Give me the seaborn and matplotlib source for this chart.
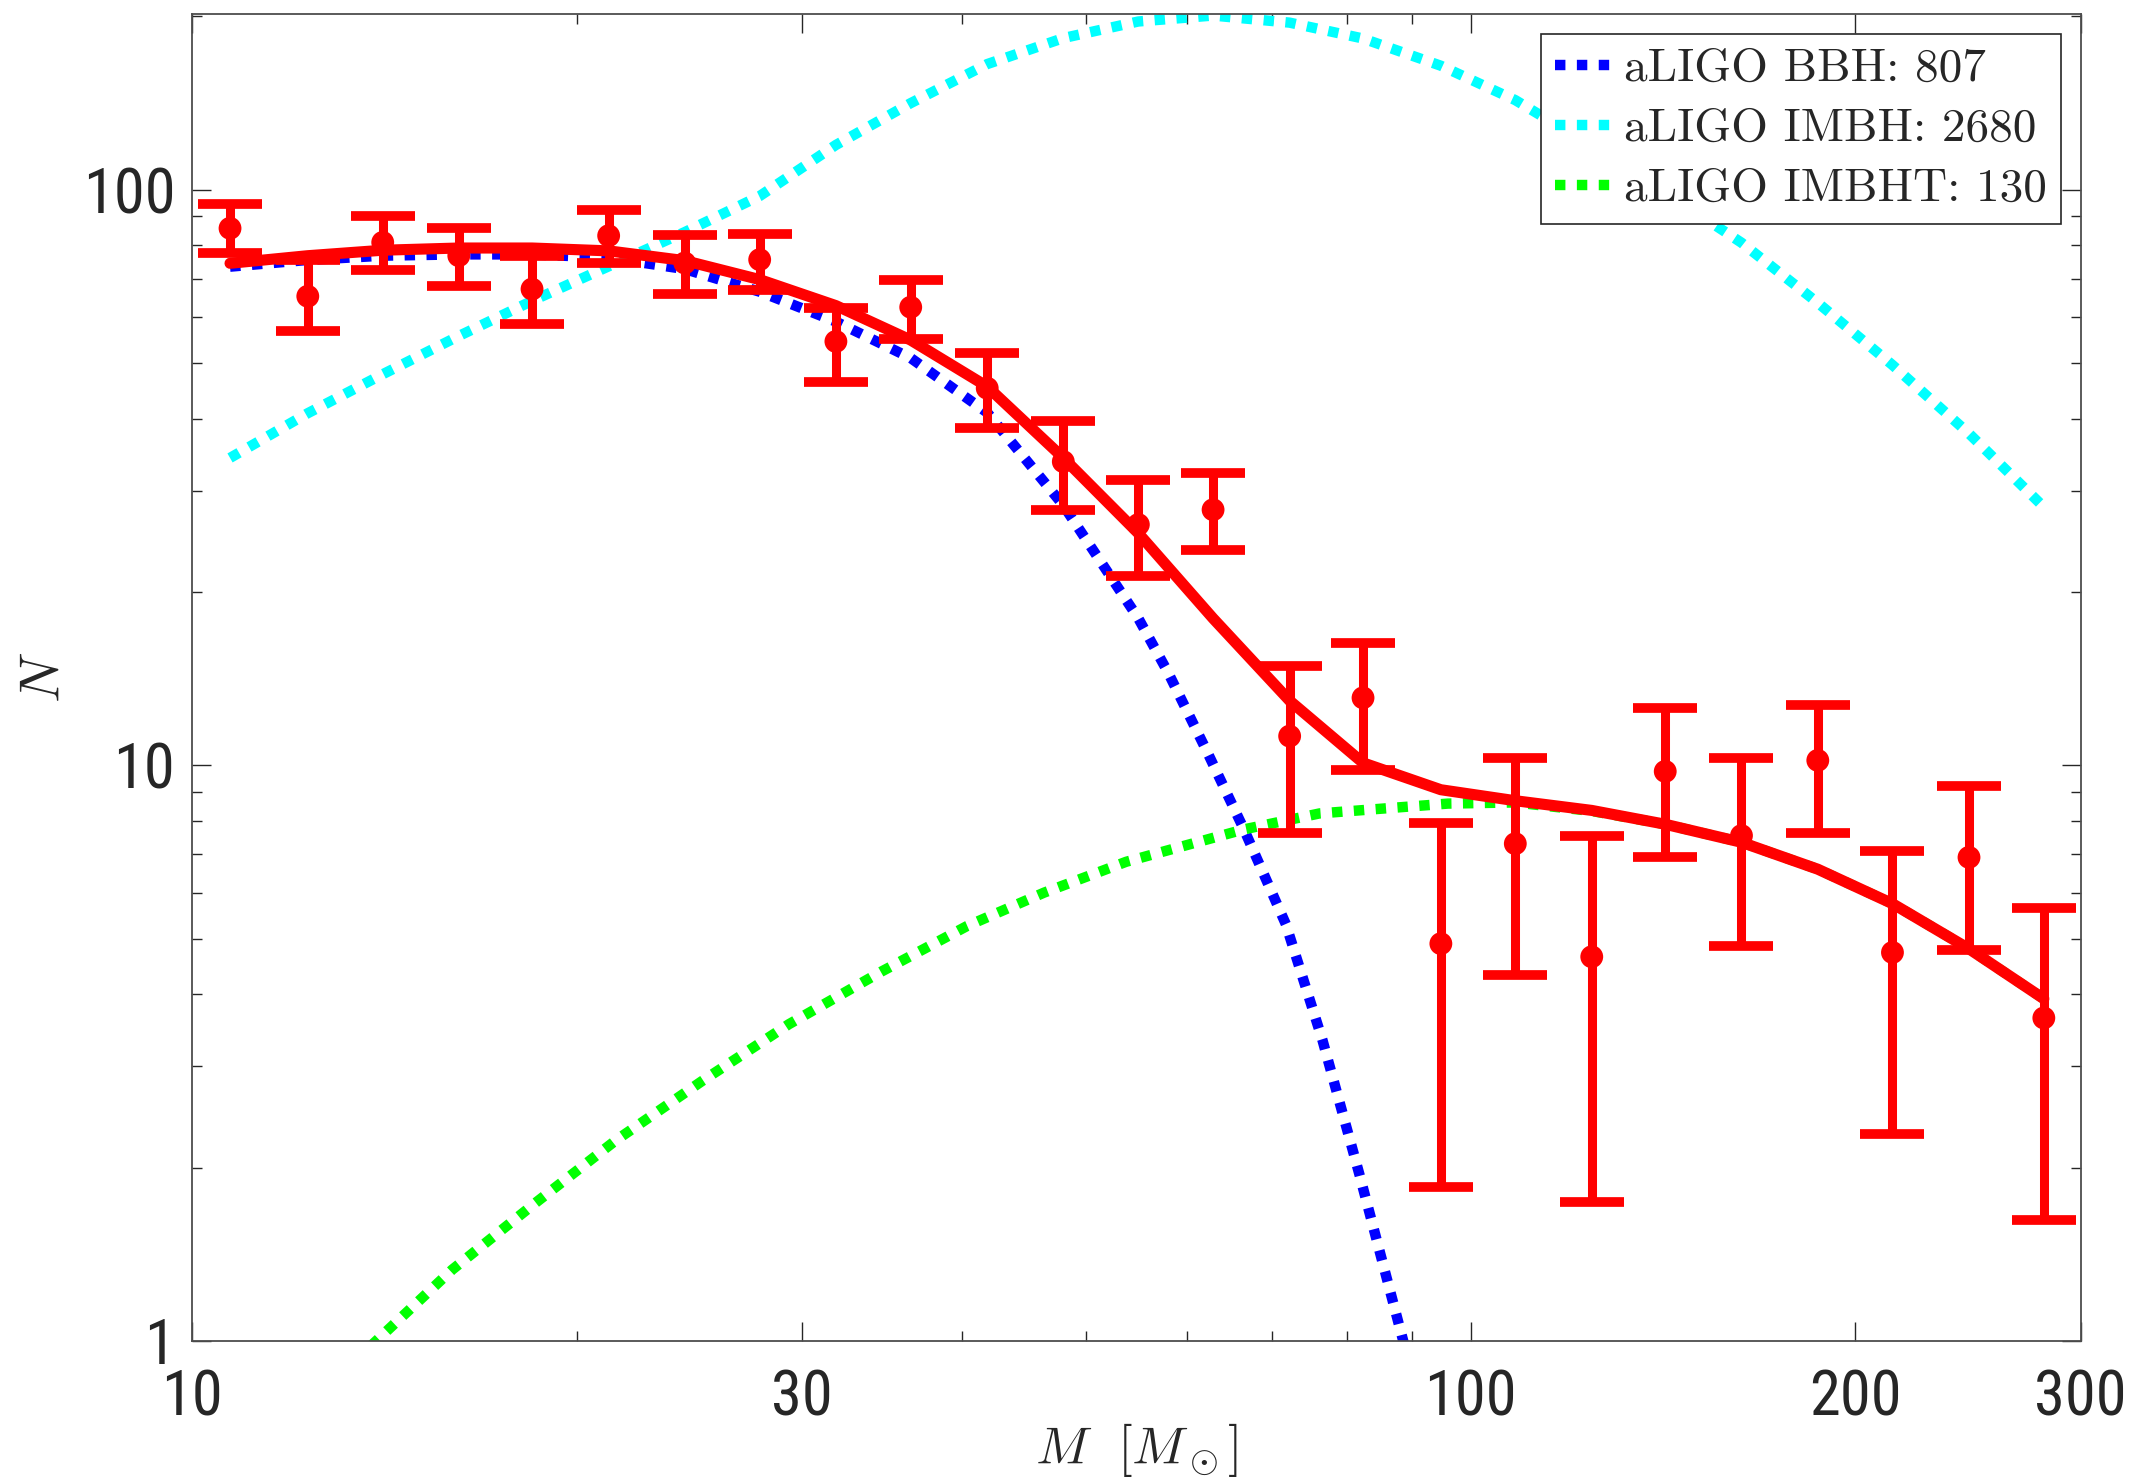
import matplotlib
matplotlib.use("Agg")
import matplotlib.pyplot as plt
from matplotlib import font_manager as fm
from matplotlib.ticker import FixedLocator, FixedFormatter, NullFormatter
import seaborn as sns

# Binned merger counts with lower / upper error bounds
mass_bins = [10.71, 12.32, 14.10, 16.17, 18.45, 21.18, 24.29, 27.80, 31.89, 36.49,
             41.88, 48.03, 54.98, 62.90, 72.20, 82.40, 94.80, 108.4, 124.4, 142.0,
             162.9, 186.9, 213.8, 245.4, 280.8]
counts = [85.7, 65.3, 81.0, 76.8, 67.2, 83.2, 74.6, 75.6, 54.5, 62.5,
          45.2, 33.7, 26.2, 27.8, 11.24, 13.1, 4.9, 7.31, 4.65, 9.76,
          7.55, 10.2, 4.73, 6.92, 3.64]
counts_upper = [94.5, 75.5, 90.0, 85.8, 76.8, 92.3, 83.5, 83.8, 62.3, 69.8,
                52.0, 39.6, 31.3, 32.2, 14.85, 16.28, 7.93, 10.3, 7.55, 12.6,
                10.3, 12.75, 7.11, 9.19, 5.66]
counts_lower = [77.5, 56.8, 72.5, 68.0, 58.4, 74.6, 66.0, 66.9, 46.3, 55.1,
                38.6, 27.8, 21.3, 23.7, 7.64, 9.81, 1.85, 4.33, 1.74, 6.92,
                4.86, 7.64, 2.29, 4.78, 1.62]

# Combined model (BBH + IMBHT)
n_total = [74.5, 76.8, 78.5, 79.2, 79.2, 78.3, 75.3, 69.8, 62.9, 54.8,
           45.5, 34.2, 25.3, 18.0, 12.95, 10.1, 9.07, 8.68, 8.35, 7.9,
           7.35, 6.6, 5.75, 4.8, 3.93]

# aLIGO BBH model
mass_bbh = [10.71, 12.32, 14.10, 16.17, 18.45, 21.18, 24.29, 27.80, 31.89, 36.49,
            41.88, 48.03, 54.98, 58.0, 62.3, 66.5, 71.7, 76.6, 81.9, 88.8]
n_bbh = [73.5, 75.5, 76.8, 77.2, 77.2, 76.2, 72.8, 66.5, 59.0, 51.0,
         41.0, 28.3, 18.0, 14.5, 10.5, 7.74, 5.3, 3.33, 1.94, 0.98]

# aLIGO IMBH model
n_imbh = [34.2, 40.9, 47.8, 55.7, 64.1, 73.6, 84.4, 97.5, 119.6, 141.4,
          165.3, 183.4, 196.0, 200.7, 195.1, 183.1, 164.2, 143.1, 119.1, 99.0,
          80.9, 63.6, 49.6, 37.7, 28.1]

# aLIGO IMBHT model
mass_imbht = [13.8, 15.98, 18.52, 21.45, 25.07, 29.3, 34.6, 40.4, 46.4, 53.8,
              66.5, 76.2, 96.0, 108.4, 124.4, 142.0, 162.9, 186.9, 213.8, 245.4, 280.8]
n_imbht = [0.98, 1.33, 1.73, 2.23, 2.83, 3.55, 4.38, 5.26, 6.01, 6.8,
           7.74, 8.25, 8.58, 8.62, 8.33, 7.9, 7.35, 6.6, 5.75, 4.8, 3.93]

legend_labels = ["aLIGO BBH: 807", "aLIGO IMBH: 2680", "aLIGO IMBHT: 130"]
x_ticks = [10, 30, 100, 200, 300]
y_ticks = [1, 10, 100]

# Narrow sans face for the tick numbers
installed = {f.name for f in fm.fontManager.ttflist}
narrow_choices = ["Roboto Condensed", "PT Sans Narrow", "Archivo Narrow",
                  "IBM Plex Sans Condensed", "Fira Sans Condensed"]
tick_family = next((n for n in narrow_choices if n in installed), "DejaVu Sans")

sns.set_theme(style="ticks")
plt.rcParams["font.family"] = [tick_family, "DejaVu Sans"]
plt.rcParams["mathtext.fontset"] = "cm"

fig, ax = plt.subplots(figsize=(21.35, 14.84), dpi=100)
fig.subplots_adjust(left=0.0899, right=0.9745, bottom=0.0964, top=0.9906)

dot = (0, (1.0, 1.1))
line_kw = dict(linewidth=7.5, linestyle=dot, estimator=None, errorbar=None,
               sort=False, ax=ax, zorder=2)
sns.lineplot(x=mass_bbh, y=n_bbh, color="#0000ff", label=legend_labels[0], **line_kw)
sns.lineplot(x=mass_bins, y=n_imbh, color="#00ffff", label=legend_labels[1], **line_kw)
sns.lineplot(x=mass_imbht, y=n_imbht, color="#00ff00", label=legend_labels[2], **line_kw)

# Total model curve
sns.lineplot(x=mass_bins, y=n_total, color="#ff0000", linewidth=8,
             estimator=None, errorbar=None, sort=False, ax=ax, zorder=3,
             legend=False)

# Data with asymmetric error bars
yerr = [[c - lo for c, lo in zip(counts, counts_lower)],
        [hi - c for c, hi in zip(counts, counts_upper)]]
ax.errorbar(mass_bins, counts, yerr=yerr, fmt="none", ecolor="#ff0000",
            elinewidth=6.5, capsize=23, capthick=7, zorder=4)
sns.scatterplot(x=mass_bins, y=counts, color="#ff0000", s=270, marker="o",
                edgecolor="none", ax=ax, zorder=5, legend=False)

ax.set_xscale("log")
ax.set_yscale("log")
ax.set_xlim(10, 300)
ax.set_ylim(1, 202)

ax.xaxis.set_major_locator(FixedLocator(x_ticks))
ax.xaxis.set_major_formatter(FixedFormatter([str(t) for t in x_ticks]))
ax.xaxis.set_minor_locator(FixedLocator([20, 40, 50, 60, 70, 80, 90]))
ax.xaxis.set_minor_formatter(NullFormatter())
ax.yaxis.set_major_locator(FixedLocator(y_ticks))
ax.yaxis.set_major_formatter(FixedFormatter([str(t) for t in y_ticks]))
ax.yaxis.set_minor_locator(FixedLocator([2, 3, 4, 5, 6, 7, 8, 9,
                                         20, 30, 40, 50, 60, 70, 80, 90, 200]))
ax.yaxis.set_minor_formatter(NullFormatter())

ax.tick_params(which="both", direction="in", top=True, right=True,
               color="#262626", width=1.0, labelcolor="#262626")
ax.tick_params(which="major", length=14, labelsize=45)
ax.tick_params(which="minor", length=7)
ax.tick_params(axis="x", which="major", pad=20)
ax.tick_params(axis="y", which="major", pad=12)

for side in ["left", "right", "top", "bottom"]:
    ax.spines[side].set_visible(True)
    ax.spines[side].set_color("#4d4d4d")
    ax.spines[side].set_linewidth(1.3)

ax.set_xlabel(r"$M\ \ [M_\odot]$", fontsize=38, color="#262626")
ax.set_ylabel(r"$N$", fontsize=40, color="#262626")
ax.xaxis.set_label_coords(0.5, -0.060)
ax.yaxis.set_label_coords(-0.064, 0.5)

handles, labels = ax.get_legend_handles_labels()
leg = ax.legend(handles, labels, loc="upper right",
                bbox_to_anchor=(2061 / 2135, 1 - 34 / 1484),
                bbox_transform=fig.transFigure, borderaxespad=0,
                prop={"family": "cmr10", "size": 34},
                frameon=True, fancybox=False, framealpha=1,
                edgecolor="#262626", handlelength=1.15, handletextpad=0.3,
                labelspacing=0.38, borderpad=0.3)
leg.get_frame().set_linewidth(1.2)
leg.set_zorder(10)

fig.savefig("out.png", dpi=100, facecolor="white")
